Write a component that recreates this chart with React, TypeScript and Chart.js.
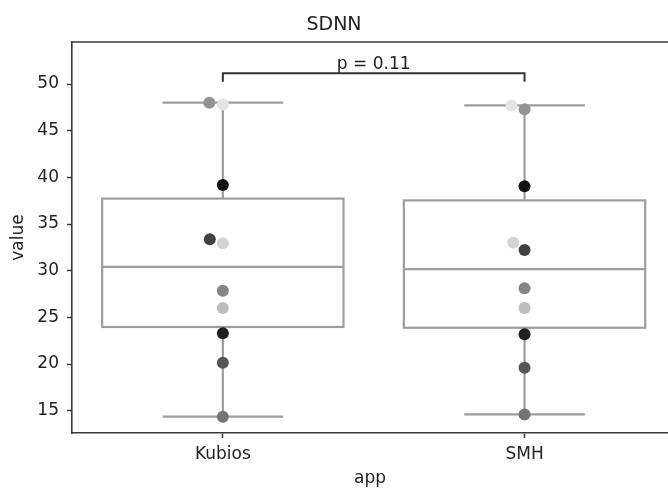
import React, { useEffect, useRef } from "react";
import { Chart, registerables } from "chart.js";

Chart.register(...registerables);

// ---- data ----
const categories = ["Kubios", "SMH"];
const kubiosValues = [48.0, 47.8, 39.18, 33.36, 32.95, 27.85, 26.0, 23.29, 20.14, 14.36];
const smhValues = [47.3, 47.7, 39.04, 32.22, 33.0, 28.11, 26.0, 23.18, 19.61, 14.6];
const subjectColors = [
  "#939393", "#e4e4e4", "#131313", "#424242", "#d4d4d4",
  "#858585", "#bdbdbd", "#1f1f1f", "#575757", "#747474",
];
const yTicks = [15, 20, 25, 30, 35, 40, 45, 50];
const pValueText = "p = 0.11";
const titleText = "SDNN";
const xTitle = "app";
const yTitle = "value";

const groups = [kubiosValues, smhValues];

// ---- helpers ----
function quantile(sorted: number[], q: number) {
  const pos = (sorted.length - 1) * q;
  const lo = Math.floor(pos);
  const hi = Math.ceil(pos);
  return sorted[lo] + (sorted[hi] - sorted[lo]) * (pos - lo);
}
function boxStats(values: number[]) {
  const s = [...values].sort((a, b) => a - b);
  const q1 = quantile(s, 0.25);
  const med = quantile(s, 0.5);
  const q3 = quantile(s, 0.75);
  const iqr = q3 - q1;
  const lo = s.filter((v) => v >= q1 - 1.5 * iqr)[0];
  const hiArr = s.filter((v) => v <= q3 + 1.5 * iqr);
  const hi = hiArr[hiArr.length - 1];
  return { q1, med, q3, lo, hi };
}

const FONT = "'DejaVu Sans', sans-serif";
const BOX_COLOR = "#9d9d9d";
const SPINE = "#3a3a3a";
const TEXT = "#222222";
const BOX_WIDTH = 0.8;
const SWARM_D = 13;

const boxPlugin = {
  id: "boxPlugin",
  beforeDatasetsDraw(chart: any) {
    const { ctx, scales, chartArea } = chart;
    const xs = scales.x;
    const ys = scales.y;
    ctx.save();
    // top spine
    ctx.strokeStyle = SPINE;
    ctx.lineWidth = 1.6;
    ctx.beginPath();
    ctx.moveTo(chartArea.left, chartArea.top);
    ctx.lineTo(chartArea.right, chartArea.top);
    ctx.stroke();

    groups.forEach((vals, i) => {
      const st = boxStats(vals);
      const cx = xs.getPixelForValue(i);
      const x0 = xs.getPixelForValue(i - BOX_WIDTH / 2);
      const x1 = xs.getPixelForValue(i + BOX_WIDTH / 2);
      const c0 = xs.getPixelForValue(i - BOX_WIDTH / 4);
      const c1 = xs.getPixelForValue(i + BOX_WIDTH / 4);
      const yq1 = ys.getPixelForValue(st.q1);
      const yq3 = ys.getPixelForValue(st.q3);
      const ym = ys.getPixelForValue(st.med);
      const ylo = ys.getPixelForValue(st.lo);
      const yhi = ys.getPixelForValue(st.hi);
      ctx.strokeStyle = BOX_COLOR;
      ctx.lineWidth = 2.2;
      // whiskers
      ctx.beginPath();
      ctx.moveTo(cx, yq3);
      ctx.lineTo(cx, yhi);
      ctx.moveTo(cx, yq1);
      ctx.lineTo(cx, ylo);
      ctx.moveTo(c0, yhi);
      ctx.lineTo(c1, yhi);
      ctx.moveTo(c0, ylo);
      ctx.lineTo(c1, ylo);
      ctx.stroke();
      // box
      ctx.fillStyle = "#ffffff";
      ctx.fillRect(x0, yq3, x1 - x0, yq1 - yq3);
      ctx.strokeRect(x0, yq3, x1 - x0, yq1 - yq3);
      // median
      ctx.beginPath();
      ctx.moveTo(x0, ym);
      ctx.lineTo(x1, ym);
      ctx.stroke();
    });
    ctx.restore();
  },
  afterDatasetsDraw(chart: any) {
    const { ctx, scales } = chart;
    const xs = scales.x;
    const ys = scales.y;
    const maxAll = Math.max(...groups.map((g) => Math.max(...g)));
    const legBottom = ys.getPixelForValue(maxAll) - 21;
    const top = legBottom - 8.4;
    const xa = xs.getPixelForValue(0);
    const xb = xs.getPixelForValue(1);
    ctx.save();
    ctx.strokeStyle = "#333333";
    ctx.lineWidth = 2;
    ctx.beginPath();
    ctx.moveTo(xa, legBottom);
    ctx.lineTo(xa, top);
    ctx.lineTo(xb, top);
    ctx.lineTo(xb, legBottom);
    ctx.stroke();
    ctx.fillStyle = TEXT;
    ctx.font = `17px ${FONT}`;
    ctx.textAlign = "center";
    ctx.textBaseline = "alphabetic";
    ctx.fillText(pValueText, (xa + xb) / 2, top - 4);
    ctx.restore();
  },
};

function swarm(chart: any, gi: number, values: number[]) {
  const xs = chart.scales.x;
  const ys = chart.scales.y;
  const cx = xs.getPixelForValue(gi);
  const order = values.map((_, i) => i).sort((a, b) => values[a] - values[b]);
  const placed: { x: number; y: number }[] = [];
  const out: number[] = new Array(values.length);
  for (const i of order) {
    const y = ys.getPixelForValue(values[i]);
    const neighbors = placed.filter((p) => Math.abs(p.y - y) < SWARM_D);
    const cands: { x: number; k: number }[] = [{ x: cx, k: 0 }];
    neighbors.forEach((n) => {
      const dx = Math.sqrt(Math.max(SWARM_D * SWARM_D - (n.y - y) ** 2, 0)) * 1.05;
      cands.push({ x: n.x - dx, k: cands.length });
      cands.push({ x: n.x + dx, k: cands.length });
    });
    cands.sort((a, b) => Math.abs(a.x - cx) - Math.abs(b.x - cx) || a.k - b.k);
    let chosen = cx;
    for (const c of cands) {
      if (neighbors.every((n) => Math.hypot(n.x - c.x, n.y - y) >= SWARM_D - 1e-6)) {
        chosen = c.x;
        break;
      }
    }
    placed.push({ x: chosen, y });
    out[i] = xs.getValueForPixel(chosen);
  }
  return out;
}

export default function App() {
  const ref = useRef<HTMLCanvasElement | null>(null);
  useEffect(() => {
    const canvas = ref.current;
    if (!canvas) return;
    const chart = new Chart(canvas, {
      type: "scatter",
      data: {
        datasets: groups.map((vals, gi) => ({
          label: categories[gi],
          data: vals.map((v) => ({ x: gi, y: v })),
          backgroundColor: subjectColors,
          borderWidth: 0,
          pointRadius: 6,
          pointHoverRadius: 6,
          pointBorderWidth: 0,
          clip: false as any,
        })),
      },
      options: {
        animation: false,
        responsive: false,
        devicePixelRatio: 1,
        events: [],
        layout: { padding: 0, autoPadding: false },
        plugins: {
          legend: { display: false },
          tooltip: { enabled: false },
          title: {
            display: true,
            text: titleText,
            color: TEXT,
            font: { family: FONT, size: 19, weight: "normal" as any },
            padding: { top: 13.7, bottom: 5.5 },
          },
        },
        scales: {
          x: {
            type: "linear",
            min: -0.5,
            max: 1.4755,
            afterBuildTicks: (s: any) => {
              s.ticks = categories.map((_, i) => ({ value: i }));
            },
            afterFit: (s: any) => {
              s.height = 56;
              s.paddingLeft = 0;
              s.paddingRight = 0;
            },
            ticks: {
              callback: (v: any) => categories[v] ?? "",
              color: TEXT,
              font: { family: FONT, size: 17 },
              padding: 6,
              maxRotation: 0,
              autoSkip: false,
            },
            grid: {
              drawOnChartArea: false,
              drawTicks: true,
              tickLength: 5,
              color: SPINE,
              tickWidth: 1.5,
            },
            border: { display: true, color: SPINE, width: 1.6 },
            title: {
              display: true,
              text: xTitle,
              color: TEXT,
              font: { family: FONT, size: 17 },
              padding: { top: 0, bottom: 0 },
            },
          },
          y: {
            type: "linear",
            min: 12.61,
            max: 54.5,
            afterBuildTicks: (s: any) => {
              s.ticks = yTicks.map((v) => ({ value: v }));
            },
            afterFit: (s: any) => {
              s.width = 72;
              s.paddingTop = 0;
              s.paddingBottom = 0;
            },
            ticks: {
              color: TEXT,
              font: { family: FONT, size: 17 },
              padding: 8,
            },
            grid: {
              drawOnChartArea: false,
              drawTicks: true,
              tickLength: 5,
              color: SPINE,
              tickWidth: 1.5,
            },
            border: { display: true, color: SPINE, width: 1.6 },
            title: {
              display: true,
              text: yTitle,
              color: TEXT,
              font: { family: FONT, size: 17 },
              padding: { top: 8.8, bottom: 0 },
            },
          },
        },
      } as any,
      plugins: [boxPlugin],
    });
    // swarm-style dodge using the chart's own scales
    groups.forEach((vals, gi) => {
      const xsVals = swarm(chart, gi, vals);
      (chart.data.datasets[gi] as any).data = vals.map((v, i) => ({ x: xsVals[i], y: v }));
    });
    chart.update("none");
    return () => chart.destroy();
  }, []);
  return (
    <div style={{ position: "fixed", left: 0, top: 0, width: 668, height: 489, background: "#fff" }}>
      <canvas ref={ref} width={668} height={489} style={{ display: "block" }} />
    </div>
  );
}
